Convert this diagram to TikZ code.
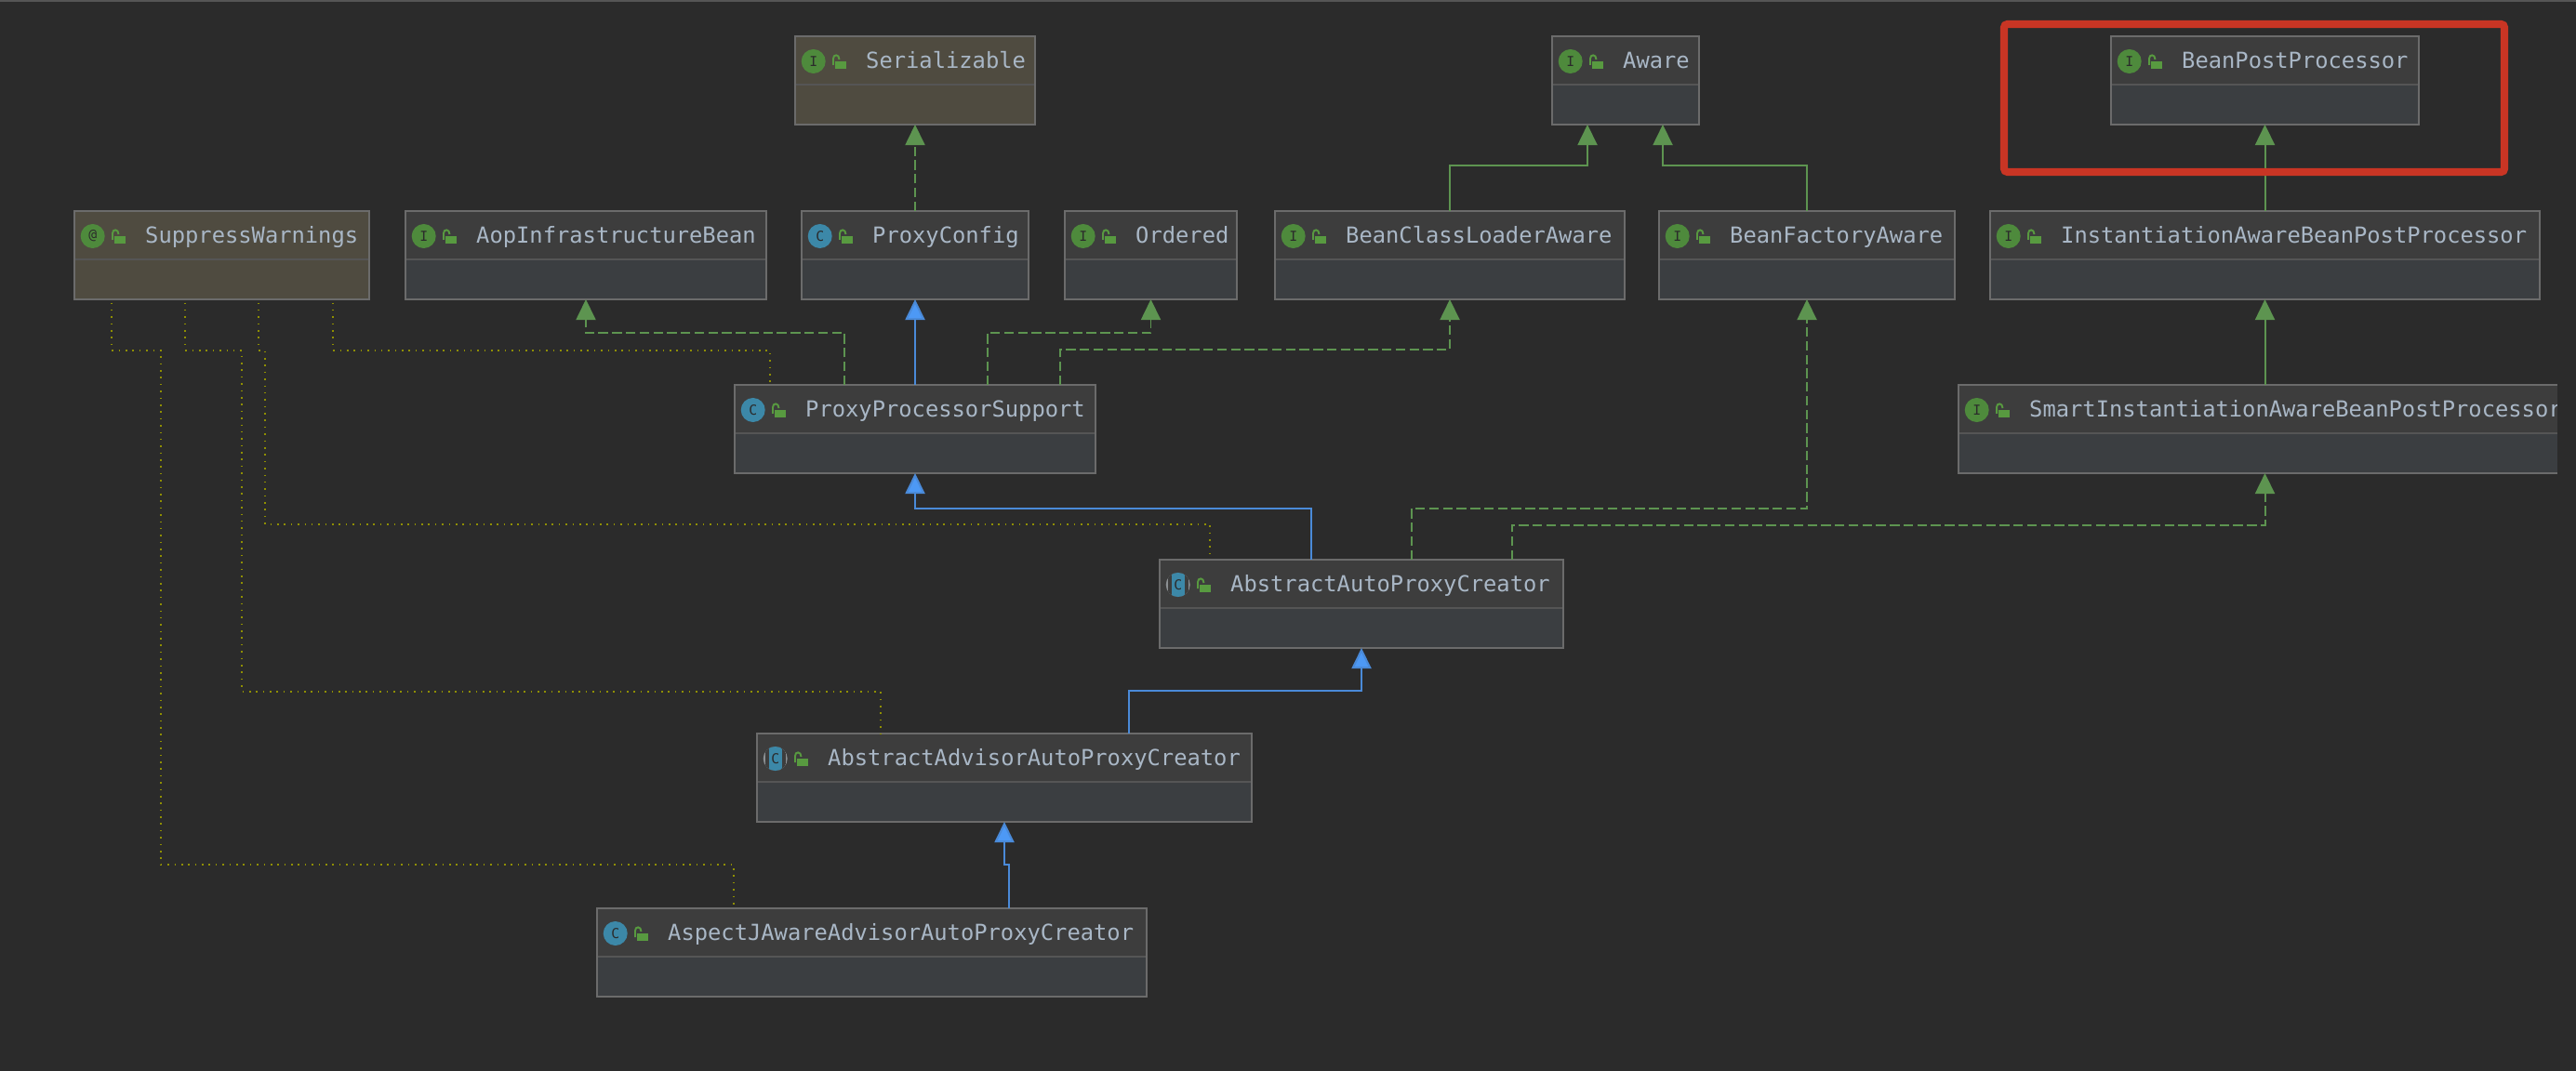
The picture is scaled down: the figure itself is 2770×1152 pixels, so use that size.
\documentclass[tikz,border=0pt]{standalone}
\usepackage{fontspec}
\setmonofont{DejaVu Sans Mono}
\usetikzlibrary{arrows.meta,calc,fit}
\definecolor{bgdark}{HTML}{2B2B2B}
\definecolor{topline}{HTML}{555555}
\definecolor{boxline}{HTML}{6B6B6B}
\definecolor{divline}{HTML}{555555}
\definecolor{bodyfill}{HTML}{3B3E41}
\definecolor{headfill}{HTML}{3D3D3D}
\definecolor{annofill}{HTML}{4F4B40}
\definecolor{textcol}{HTML}{A9B7C6}
\definecolor{igreen}{HTML}{4E8A3C}
\definecolor{cblue}{HTML}{3C88A8}
\definecolor{agray}{HTML}{8C9093}
\definecolor{lockgreen}{HTML}{589A40}
\definecolor{edgegreen}{HTML}{5D9450}
\definecolor{edgeblue}{HTML}{4A8AD8}
\definecolor{tipblue}{HTML}{4D99F5}
\definecolor{dotyellow}{HTML}{8F8F00}
\definecolor{redbox}{HTML}{C93524}
\tikzset{
  main/.style = {draw=boxline, line width=0.55pt, fill=bodyfill, inner sep=0pt, outer sep=0pt},
  plain/.style = {},
  anno/.style = {fill=annofill},
  head/.style = {draw=divline, line width=0.55pt, fill=headfill, inner sep=0pt, outer sep=0pt},
  badge/.style = {circle, minimum size=7.4pt, inner sep=0pt, text=bgdark, font=\ttfamily\fontsize{4.2}{5}\selectfont},
  ibadge/.style = {badge, fill=igreen},
  cbadge/.style = {badge, fill=cblue},
  abadge/.style = {badge, fill=agray, path picture={
    \fill[headfill] ($(path picture bounding box.center)+(-11,-14)$) rectangle ($(path picture bounding box.center)+(11,14)$);
    \fill[cblue] ($(path picture bounding box.center)+(-7,-14)$) rectangle ($(path picture bounding box.center)+(7,14)$);}},
  lockbody/.style = {fill=lockgreen, inner sep=0pt, minimum width=3.3pt, minimum height=2.5pt},
  lockbar/.style = {draw=lockgreen, line width=0.55pt},
  title/.style = {anchor=base west, inner sep=0pt, text=textcol, font=\ttfamily\fontsize{6.76}{8}\selectfont},
  solidgreen/.style = {draw=edgegreen, line width=0.55pt, -{Triangle[length=6.3pt,width=6pt,fill=edgegreen]}},
  dashgreen/.style = {solidgreen, dash pattern=on 2.95pt off 1.25pt},
  solidblue/.style = {draw=edgeblue, line width=0.6pt, -{Triangle[length=6.3pt,width=6pt,fill=tipblue]}},
  dotbrown/.style = {draw=dotyellow, line width=0.45pt, dash pattern=on 0.45pt off 1.65pt, shorten <=1pt},
}
% name, body style, badge style, letter, left, right, top, title
\newcommand{\umlclass}[8]{
  \node[main, #2, fit={(#5,#7) (#6,#7+95)}] (#1) {};
  \node[head, #2, fit={(#5,#7) (#6,#7+52)}] (#1h) {};
  \draw[boxline, line width=0.55pt] (#5,#7) rectangle (#6,#7+95);
  \node[#3] (#1i) at ($(#1.north west)+(19.7,27)$) {#4};
  \node[lockbody] (#1l) at ($(#1.north west)+(49,31)$) {};
  \draw[lockbar] ($(#1.north west)+(41,31)$) -- ($(#1.north west)+(41,24)$) .. controls ($(#1.north west)+(41,19)$) and ($(#1.north west)+(47.5,19)$) .. ($(#1.north west)+(47.5,25)$);
  \node[title] (#1t) at ($(#1.north west)+(75.5,34.5)$) {#8};
}
\begin{document}
\begin{tikzpicture}[x=0.01cm, y=-0.01cm]
\fill[bgdark] (0,0) rectangle (2770,1152);
\useasboundingbox (0,0) rectangle (2770,1152);
\draw[topline, line width=0.5pt] (0,1) -- (2770,1);
\umlclass{serial}{anno}{ibadge}{I}{855}{1113}{39}{Serializable}
\umlclass{aware}{plain}{ibadge}{I}{1669}{1827}{39}{Aware}
\umlclass{bpp}{plain}{ibadge}{I}{2270}{2601}{39}{BeanPostProcessor}
\umlclass{warn}{anno}{ibadge}{@}{80}{397}{227}{SuppressWarnings}
\umlclass{aop}{plain}{ibadge}{I}{436}{824}{227}{AopInfrastructureBean}
\umlclass{config}{plain}{cbadge}{C}{862}{1106}{227}{ProxyConfig}
\umlclass{order}{plain}{ibadge}{I}{1145}{1330}{227}{Ordered}
\umlclass{loader}{plain}{ibadge}{I}{1371}{1747}{227}{BeanClassLoaderAware}
\umlclass{factory}{plain}{ibadge}{I}{1784}{2102}{227}{BeanFactoryAware}
\umlclass{inst}{plain}{ibadge}{I}{2140}{2731}{227}{InstantiationAwareBeanPostProcessor}
\umlclass{support}{plain}{cbadge}{C}{790}{1178}{414}{ProxyProcessorSupport}
\umlclass{smart}{plain}{ibadge}{I}{2106}{2764}{414}{SmartInstantiationAwareBeanPostProcessor}
\umlclass{auto}{plain}{abadge}{C}{1247}{1681}{602}{AbstractAutoProxyCreator}
\umlclass{advisor}{plain}{abadge}{C}{814}{1346}{789}{AbstractAdvisorAutoProxyCreator}
\umlclass{aspect}{plain}{cbadge}{C}{642}{1233}{977}{AspectJAwareAdvisorAutoProxyCreator}
% the screenshot cuts the last box off
\fill[bgdark] (2750,400) rectangle (2770,520);
% bends
\coordinate (a1) at (908,358);
\coordinate (a2) at (1062,358);
\coordinate (a3) at (1140,376);
\coordinate (a4) at (1560,178);
\coordinate (a5) at (1943,178);
\coordinate (a6) at (1707,178);
\coordinate (a7) at (1788,178);
\coordinate (b1) at (1410,547);
\coordinate (b2) at (1518,547);
\coordinate (b3) at (1626,565);
\coordinate (b4) at (1214,743);
\coordinate (b5) at (1085,930);
\coordinate (d1) at (120,377);
\coordinate (d2) at (173,930);
\coordinate (d3) at (199,377);
\coordinate (d4) at (260,744);
\coordinate (d5) at (278,377);
\coordinate (d6) at (285,564);
\coordinate (d7) at (358,377);
\coordinate (d8) at (828,377);
\coordinate (d9) at (947,744);
\coordinate (d10) at (1301,564);
\coordinate (d11) at (789,930);
% green and blue edges
\draw[dashgreen] (config.north) -- (serial.south);
\draw[solidgreen] (loader.north) -- (loader.north |- a4) -- (a6) -- (a6 |- aware.south);
\draw[solidgreen] (factory.north) -- (a5) -- (a7) -- (a7 |- aware.south);
\draw[solidgreen] (inst.north -| bpp.south) -- (bpp.south);
\draw[solidgreen] (smart.north -| inst.south) -- (inst.south);
\draw[dashgreen] (a1 |- support.north) -- (a1) -- (a1 -| aop.south) -- (aop.south);
\draw[solidblue] (support.north) -- (config.south);
\draw[dashgreen] (a2 |- support.north) -- (a2) -- (a2 -| order.south) -- (order.south);
\draw[dashgreen] (a3 |- support.north) -- (a3) -- (a3 -| loader.south) -- (loader.south);
\draw[solidblue] (b1 |- auto.north) -- (b1) -- (b1 -| support.south) -- (support.south);
\draw[dashgreen] (b2 |- auto.north) -- (b2) -- (b2 -| factory.south) -- (factory.south);
\draw[dashgreen] (b3 |- auto.north) -- (b3) -- (b3 -| inst.south) -- (inst.south |- smart.south);
\draw[solidblue] (b4 |- advisor.north) -- (b4) -- (b4 -| auto.south) -- (auto.south);
\draw[solidblue] (b5 |- aspect.north) -- (b5) -- (b5 -| advisor.south) -- (advisor.south);
% dotted edges
\draw[dotbrown] (d1 |- warn.south) -- (d1) -- (d2 |- d1) -- (d2) -- (d11) -- (aspect.north -| d11);
\draw[dotbrown] (d3 |- warn.south) -- (d3) -- (d4 |- d3) -- (d4) -- (d9) -- (advisor.north -| d9);
\draw[dotbrown] (d5 |- warn.south) -- (d5) -- (d6 |- d5) -- (d6) -- (d10) -- (auto.north -| d10);
\draw[dotbrown] (d7 |- warn.south) -- (d7) -- (d8) -- (support.north -| d8);
% red frame
\draw[redbox, line width=2.3pt, rounded corners=1pt] (2155,26) rectangle (2693,185);
\end{tikzpicture}
\end{document}
